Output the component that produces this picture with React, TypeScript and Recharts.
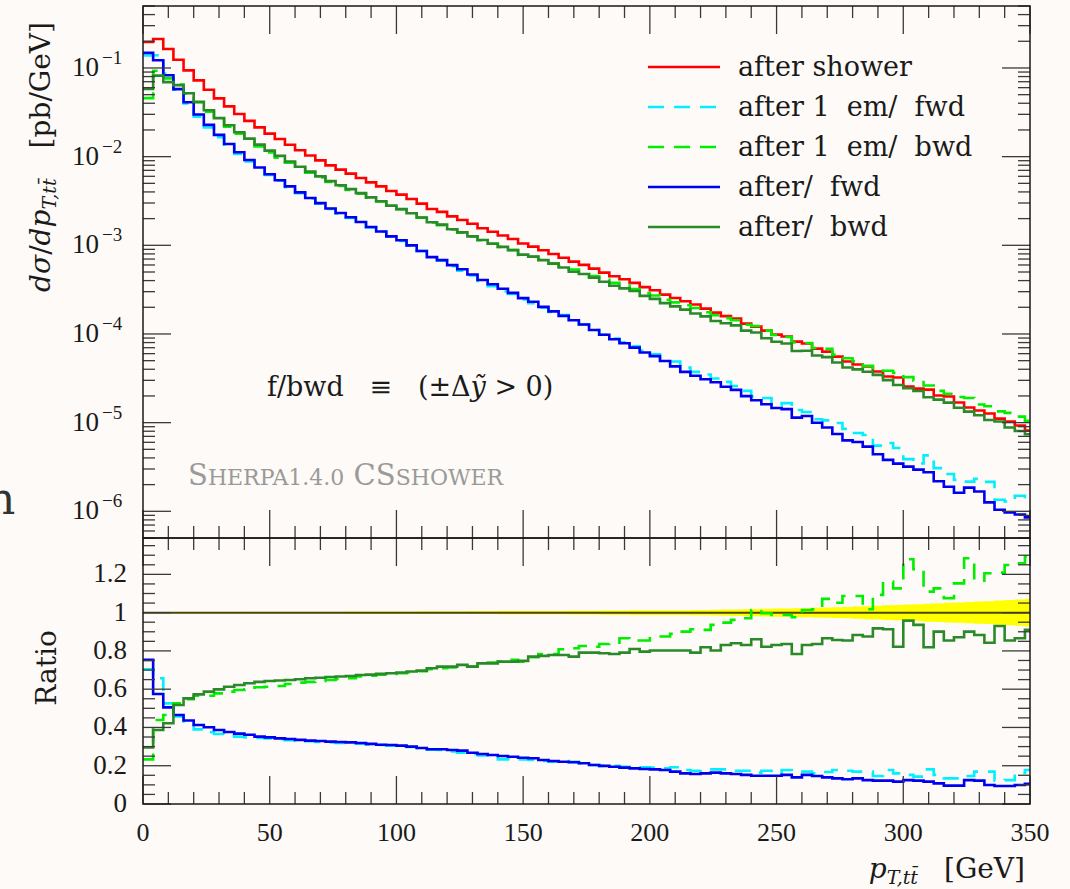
import React from 'react'
import { LineChart, ComposedChart, Line, Area, XAxis, YAxis, ReferenceLine } from 'recharts'

// histogram contents in pb/GeV, 4 GeV bins starting at pT = 0
const AFTER_SHOWER = [
  0.196, 0.212, 0.164, 0.124, 0.094, 0.0725, 0.0569, 0.0454, 0.0369, 0.0303,
  0.0253, 0.0214, 0.0182, 0.0158, 0.0136, 0.0118, 0.0103, 0.00908, 0.00798, 0.00713,
  0.00643, 0.00575, 0.00513, 0.00462, 0.0041, 0.00373, 0.00333, 0.00295, 0.00257, 0.00238,
  0.00212, 0.00193, 0.00175, 0.00156, 0.00142, 0.00129, 0.00118, 0.00105, 0.000967, 0.000878,
  0.000799, 0.000723, 0.000655, 0.000601, 0.000546, 0.000492, 0.000447, 0.000414, 0.000377, 0.000338,
  0.000311, 0.000278, 0.000255, 0.000234, 0.000215, 0.000193, 0.000174, 0.000159, 0.000149, 0.000131,
  0.000121, 0.000109, 9.84e-5, 9.35e-5, 8.2e-5, 7.8e-5, 6.84e-5, 6.33e-5, 5.56e-5, 4.89e-5,
  4.52e-5, 4.29e-5, 3.77e-5, 3.31e-5, 3.23e-5, 2.55e-5, 2.42e-5, 2.36e-5, 2.02e-5, 1.97e-5,
  1.69e-5, 1.48e-5, 1.37e-5, 1.27e-5, 1.11e-5, 1.03e-5, 9.28e-6, 8.14e-6,
]
const EM_FWD = [
  0.138, 0.139, 0.0863, 0.0567, 0.0397, 0.0283, 0.0213, 0.0166, 0.0132, 0.0107,
  0.0088, 0.00738, 0.00622, 0.00534, 0.00453, 0.00388, 0.00338, 0.00294, 0.00257, 0.00227,
  0.00204, 0.00181, 0.00159, 0.00142, 0.00125, 0.00112, 0.000992, 0.000864, 0.00073, 0.000671,
  0.000581, 0.000517, 0.000457, 0.000396, 0.000346, 0.000301, 0.000282, 0.000245, 0.000222, 0.000198,
  0.000177, 0.000163, 0.000144, 0.000128, 0.000111, 9.79e-5, 8.9e-5, 8.07e-5, 7.24e-5, 6.49e-5,
  5.91e-5, 5.17e-5, 4.9e-5, 4.17e-5, 3.74e-5, 3.49e-5, 3.15e-5, 2.88e-5, 2.59e-5, 2.28e-5,
  1.98e-5, 1.9e-5, 1.57e-5, 1.66e-5, 1.39e-5, 1.32e-5, 1.09e-5, 1.06e-5, 9.9e-6, 8.51e-6,
  7.64e-6, 7.25e-6, 5.5e-6, 5.89e-6, 5.17e-6, 3.88e-6, 3.46e-6, 4.27e-6, 3.07e-6, 2.64e-6,
  2.26e-6, 2.16e-6, 2.32e-6, 2.15e-6, 1.35e-6, 1.29e-6, 1.5e-6, 1.45e-6,
]
const EM_BWD = [
  0.0457, 0.0931, 0.0763, 0.0652, 0.0514, 0.041, 0.0322, 0.0262, 0.0217, 0.0181,
  0.01515, 0.01305, 0.01116, 0.00975, 0.00853, 0.00748, 0.00657, 0.00584, 0.00517, 0.00466,
  0.00422, 0.00383, 0.00344, 0.00312, 0.00279, 0.00255, 0.00229, 0.00205, 0.00181, 0.00169,
  0.00151, 0.00139, 0.00126, 0.00114, 0.00105, 0.00096, 0.000889, 0.000781, 0.000742, 0.000688,
  0.000626, 0.000585, 0.000533, 0.000496, 0.000449, 0.000411, 0.000377, 0.000359, 0.000322, 0.000289,
  0.000272, 0.000243, 0.000227, 0.000211, 0.000196, 0.000176, 0.000163, 0.000151, 0.000143, 0.000127,
  0.000123, 0.000109, 9.72e-5, 9.24e-5, 8.0e-5, 7.91e-5, 6.96e-5, 6.79e-5, 5.85e-5, 5.32e-5,
  4.91e-5, 4.37e-5, 4.12e-5, 3.85e-5, 3.64e-5, 3.26e-5, 2.97e-5, 2.62e-5, 2.28e-5, 2.12e-5,
  1.95e-5, 1.9e-5, 1.6e-5, 1.53e-5, 1.34e-5, 1.29e-5, 1.17e-5, 1.05e-5,
]
const FWD = [
  0.148, 0.122, 0.0828, 0.0577, 0.041, 0.0299, 0.0228, 0.0176, 0.0139, 0.0112,
  0.00916, 0.00753, 0.00633, 0.00542, 0.00462, 0.00395, 0.00341, 0.00299, 0.0026, 0.00231,
  0.00207, 0.00183, 0.00161, 0.00143, 0.00126, 0.00114, 0.000999, 0.000864, 0.000735, 0.000681,
  0.000598, 0.000538, 0.000469, 0.000407, 0.000364, 0.000324, 0.000291, 0.000254, 0.000231, 0.000202,
  0.00018, 0.00016, 0.000143, 0.000128, 0.000111, 9.79e-5, 8.72e-5, 7.87e-5, 7.01e-5, 6.19e-5,
  5.63e-5, 4.95e-5, 4.31e-5, 3.74e-5, 3.38e-5, 3.09e-5, 2.85e-5, 2.54e-5, 2.34e-5, 1.99e-5,
  1.79e-5, 1.61e-5, 1.46e-5, 1.42e-5, 1.14e-5, 1.19e-5, 9.99e-6, 8.8e-6, 7.45e-6, 6.31e-6,
  6.06e-6, 5.36e-6, 4.4e-6, 3.8e-6, 3.45e-6, 3.19e-6, 2.95e-6, 2.76e-6, 2.18e-6, 1.89e-6,
  1.62e-6, 1.85e-6, 1.67e-6, 1.26e-6, 1.04e-6, 9.68e-7, 9.19e-7, 8.55e-7,
]
const BWD = [
  0.058, 0.082, 0.0692, 0.0641, 0.0519, 0.0415, 0.0334, 0.0272, 0.0226, 0.01885,
  0.01596, 0.01365, 0.0117, 0.01019, 0.00881, 0.00769, 0.00677, 0.00599, 0.0053, 0.00475,
  0.0043, 0.00388, 0.00347, 0.00314, 0.0028, 0.00256, 0.0023, 0.00206, 0.00182, 0.00171,
  0.00152, 0.0014, 0.00126, 0.00115, 0.00104, 0.00096, 0.000878, 0.000785, 0.000745, 0.00068,
  0.000622, 0.000563, 0.000504, 0.000475, 0.000432, 0.000388, 0.00035, 0.000327, 0.000305, 0.000269,
  0.000249, 0.000223, 0.000205, 0.000188, 0.00017, 0.000158, 0.00014, 0.000132, 0.000125, 0.000109,
  0.000104, 8.96e-5, 8.18e-5, 7.82e-5, 6.43e-5, 6.48e-5, 5.72e-5, 5.48e-5, 4.76e-5, 4.18e-5,
  3.99e-5, 3.75e-5, 3.46e-5, 3.02e-5, 2.66e-5, 2.44e-5, 2.27e-5, 1.93e-5, 1.82e-5, 1.68e-5,
  1.47e-5, 1.33e-5, 1.21e-5, 1.07e-5, 1.03e-5, 8.8e-6, 8.04e-6, 7.41e-6,
]

// ratio to "after shower"
const RATIO_EM_FWD = [
  0.704, 0.657, 0.526, 0.457, 0.422, 0.39, 0.375, 0.366, 0.357, 0.352,
  0.348, 0.345, 0.342, 0.338, 0.333, 0.329, 0.328, 0.324, 0.322, 0.319,
  0.317, 0.315, 0.31, 0.308, 0.305, 0.301, 0.298, 0.293, 0.284, 0.282,
  0.274, 0.268, 0.261, 0.254, 0.244, 0.233, 0.239, 0.233, 0.23, 0.225,
  0.221, 0.225, 0.22, 0.213, 0.204, 0.199, 0.199, 0.195, 0.192, 0.192,
  0.19, 0.186, 0.192, 0.178, 0.174, 0.181, 0.181, 0.181, 0.174, 0.174,
  0.164, 0.174, 0.16, 0.178, 0.169, 0.169, 0.16, 0.167, 0.178, 0.174,
  0.169, 0.169, 0.146, 0.178, 0.16, 0.152, 0.143, 0.181, 0.152, 0.134,
  0.134, 0.146, 0.169, 0.169, 0.122, 0.125, 0.162, 0.178,
]
const RATIO_EM_BWD = [
  0.233, 0.439, 0.465, 0.526, 0.547, 0.566, 0.566, 0.578, 0.587, 0.596,
  0.599, 0.61, 0.613, 0.617, 0.627, 0.634, 0.638, 0.643, 0.648, 0.653,
  0.657, 0.666, 0.671, 0.676, 0.68, 0.683, 0.688, 0.694, 0.704, 0.709,
  0.714, 0.721, 0.718, 0.732, 0.739, 0.744, 0.753, 0.744, 0.767, 0.784,
  0.784, 0.809, 0.814, 0.826, 0.822, 0.836, 0.843, 0.866, 0.854, 0.854,
  0.875, 0.875, 0.889, 0.901, 0.913, 0.91, 0.936, 0.948, 0.962, 0.971,
  1.014, 0.997, 0.988, 0.988, 0.976, 1.014, 1.018, 1.072, 1.052, 1.087,
  1.087, 1.018, 1.093, 1.162, 1.127, 1.279, 1.227, 1.11, 1.127, 1.075,
  1.153, 1.284, 1.167, 1.206, 1.209, 1.249, 1.258, 1.293,
]
const RATIO_FWD = [
  0.753, 0.575, 0.505, 0.465, 0.436, 0.413, 0.401, 0.387, 0.376, 0.368,
  0.362, 0.352, 0.348, 0.343, 0.34, 0.335, 0.331, 0.329, 0.326, 0.324,
  0.322, 0.319, 0.314, 0.31, 0.308, 0.305, 0.3, 0.293, 0.286, 0.286,
  0.282, 0.279, 0.268, 0.261, 0.256, 0.251, 0.247, 0.242, 0.239, 0.23,
  0.225, 0.221, 0.218, 0.213, 0.204, 0.199, 0.195, 0.19, 0.186, 0.183,
  0.181, 0.178, 0.169, 0.16, 0.157, 0.16, 0.164, 0.16, 0.157, 0.152,
  0.148, 0.148, 0.148, 0.152, 0.139, 0.152, 0.146, 0.139, 0.134, 0.129,
  0.134, 0.125, 0.122, 0.122, 0.117, 0.125, 0.122, 0.117, 0.108, 0.096,
  0.096, 0.125, 0.122, 0.099, 0.094, 0.094, 0.099, 0.105,
]
const RATIO_BWD = [
  0.296, 0.387, 0.422, 0.517, 0.552, 0.573, 0.587, 0.599, 0.613, 0.622,
  0.631, 0.638, 0.643, 0.645, 0.648, 0.652, 0.657, 0.66, 0.664, 0.666,
  0.669, 0.674, 0.676, 0.68, 0.683, 0.687, 0.692, 0.697, 0.709, 0.718,
  0.718, 0.727, 0.718, 0.735, 0.735, 0.744, 0.744, 0.748, 0.77, 0.774,
  0.779, 0.779, 0.77, 0.791, 0.791, 0.788, 0.784, 0.791, 0.81, 0.796,
  0.802, 0.802, 0.802, 0.802, 0.791, 0.819, 0.802, 0.831, 0.84, 0.831,
  0.861, 0.822, 0.831, 0.836, 0.784, 0.831, 0.836, 0.866, 0.857, 0.854,
  0.883, 0.875, 0.918, 0.913, 0.822, 0.958, 0.936, 0.819, 0.901, 0.854,
  0.871, 0.901, 0.883, 0.843, 0.93, 0.854, 0.866, 0.91,
]
// half width of the yellow uncertainty band around 1
const RATIO_ERR = [
  0.002, 0.002, 0.002, 0.002, 0.002, 0.002, 0.002, 0.002, 0.002, 0.002,
  0.003, 0.003, 0.003, 0.003, 0.003, 0.003, 0.003, 0.003, 0.003, 0.003,
  0.004, 0.004, 0.004, 0.005, 0.005, 0.005, 0.005, 0.006, 0.006, 0.006,
  0.006, 0.006, 0.007, 0.007, 0.007, 0.008, 0.008, 0.008, 0.008, 0.009,
  0.009, 0.009, 0.01, 0.01, 0.01, 0.011, 0.011, 0.011, 0.012, 0.012,
  0.012, 0.012, 0.013, 0.013, 0.014, 0.014, 0.015, 0.016, 0.017, 0.018,
  0.019, 0.02, 0.021, 0.022, 0.023, 0.024, 0.025, 0.027, 0.028, 0.03,
  0.032, 0.034, 0.036, 0.038, 0.04, 0.042, 0.044, 0.047, 0.049, 0.051,
  0.053, 0.055, 0.058, 0.06, 0.063, 0.066, 0.069, 0.072,
]

const BIN_WIDTH = 4

const X_TICKS = [0, 10, 20, 30, 40, 50, 60, 70, 80, 90, 100, 110, 120, 130, 140, 150, 160, 170, 180,
  190, 200, 210, 220, 230, 240, 250, 260, 270, 280, 290, 300, 310, 320, 330, 340, 350]
const X_LABELS = [0, 50, 100, 150, 200, 250, 300, 350]
const LOG_DECADES = [1e-7, 1e-6, 1e-5, 1e-4, 1e-3, 1e-2, 1e-1]
const LOG_MANTISSAS = [1, 2, 3, 4, 5, 6, 7, 8, 9]
const RATIO_TICKS = [0, 0.05, 0.1, 0.15, 0.2, 0.25, 0.3, 0.35, 0.4, 0.45, 0.5, 0.55, 0.6, 0.65, 0.7,
  0.75, 0.8, 0.85, 0.9, 0.95, 1, 1.05, 1.1, 1.15, 1.2, 1.25, 1.3, 1.35]
const RATIO_LABELS = [0, 0.2, 0.4, 0.6, 0.8, 1, 1.2]

const SERIES = [
  { key: 'shower', name: 'after shower', color: '#ff0000', dash: undefined, data: AFTER_SHOWER, ratio: null },
  { key: 'emFwd', name: 'after 1 em/ fwd', color: '#00f0ff', dash: '16 10', data: EM_FWD, ratio: RATIO_EM_FWD },
  { key: 'emBwd', name: 'after 1 em/ bwd', color: '#00ee00', dash: '16 10', data: EM_BWD, ratio: RATIO_EM_BWD },
  { key: 'fwd', name: 'after/ fwd', color: '#0000f0', dash: undefined, data: FWD, ratio: RATIO_FWD },
  { key: 'bwd', name: 'after/ bwd', color: '#2a8a2a', dash: undefined, data: BWD, ratio: RATIO_BWD },
]

// layout
const W = 1070
const H = 889
const PL = 143
const PR = 1030
const UP_TOP = 6
const SPLIT = 538
const LO_BOT = 804
const MAJOR = 28
const MINOR = 12
const INK = '#1a1a1a'
const TICK_INK = '#3a3a3a'
const BG = '#fdfaf7'
const NUM_FONT = '"Liberation Serif", serif'
const TEXT_FONT = '"DejaVu Serif", serif'

const LOG_TICKS = LOG_DECADES.flatMap(d => LOG_MANTISSAS.map(m => m * d)).filter(v => v >= 5e-7 && v <= 0.5)

// one row per bin edge; the extra last row closes the final bin
const nBins = AFTER_SHOWER.length
const rows = Array.from({ length: nBins + 1 }, (_, k) => {
  const i = Math.min(k, nBins - 1)
  const row: any = { x: k * BIN_WIDTH, band: [1 - RATIO_ERR[i], 1 + RATIO_ERR[i]] }
  SERIES.forEach(s => {
    row[s.key] = s.data[i]
    if (s.ratio) row[s.key + 'R'] = s.ratio[i]
  })
  return row
})

const tl = { stroke: TICK_INK, strokeWidth: 1.3 }

function UpperYTick(props: any) {
  const { y, payload } = props
  const v = payload.value
  const major = LOG_DECADES.includes(v)
  const len = major ? MAJOR : MINOR
  const exp = Math.round(Math.log10(v))
  return (
    <g>
      <line x1={PL} x2={PL + len} y1={y} y2={y} {...tl} />
      <line x1={PR} x2={PR - len} y1={y} y2={y} {...tl} />
      {major && (
        <>
          <text x={99} y={y + 8} textAnchor="end" fontFamily={NUM_FONT} fontSize={27} fill={INK}>10</text>
          <text x={102} y={y - 4} fontFamily={NUM_FONT} fontSize={19} fill={INK}>{'\u2212' + Math.abs(exp)}</text>
        </>
      )}
    </g>
  )
}

function UpperXTick(props: any) {
  const { x, payload } = props
  const len = X_LABELS.includes(payload.value) ? MAJOR : MINOR
  return (
    <g>
      <line x1={x} x2={x} y1={UP_TOP} y2={UP_TOP + len} {...tl} />
      <line x1={x} x2={x} y1={SPLIT} y2={SPLIT - len} {...tl} />
    </g>
  )
}

function RatioYTick(props: any) {
  const { y, payload } = props
  const v = payload.value
  const major = RATIO_LABELS.includes(v)
  const len = major ? MAJOR : MINOR
  return (
    <g>
      <line x1={PL} x2={PL + len} y1={y} y2={y} {...tl} />
      <line x1={PR} x2={PR - len} y1={y} y2={y} {...tl} />
      {major && (
        <text x={127} y={y + 8} textAnchor="end" fontFamily={NUM_FONT} fontSize={27} fill={INK}>
          {v === 0 || v === 1 ? String(v) : v.toFixed(1)}
        </text>
      )}
    </g>
  )
}

function RatioXTick(props: any) {
  const { x, payload } = props
  const major = X_LABELS.includes(payload.value)
  const len = major ? MAJOR : MINOR
  return (
    <g>
      <line x1={x} x2={x} y1={SPLIT} y2={SPLIT + len} {...tl} />
      <line x1={x} x2={x} y1={LO_BOT} y2={LO_BOT - len} {...tl} />
      {major && (
        <text x={x} y={841} textAnchor="middle" fontFamily={NUM_FONT} fontSize={26} fill={INK}>
          {payload.value}
        </text>
      )}
    </g>
  )
}

function Overlay() {
  return (
    <svg width={W} height={H} style={{ position: 'absolute', left: 0, top: 0, pointerEvents: 'none' }}>
      <rect x={PL} y={UP_TOP} width={PR - PL} height={SPLIT - UP_TOP} fill="none" stroke={INK} strokeWidth={1.5} />
      <rect x={PL} y={SPLIT} width={PR - PL} height={LO_BOT - SPLIT} fill="none" stroke={INK} strokeWidth={1.5} />

      {SERIES.map((s, i) => (
        <g key={s.key}>
          <line x1={648} x2={720} y1={67 + 40 * i} y2={67 + 40 * i} stroke={s.color} strokeWidth={2.6} strokeDasharray={s.dash} />
          <text x={738} y={76 + 40 * i} fontFamily={TEXT_FONT} fontSize={27} fill={INK} style={{ whiteSpace: 'pre' }}>
            {s.name.replace(/ /g, '  ').replace('after  ', 'after ')}
          </text>
        </g>
      ))}

      <text x={267} y={396} fontFamily={TEXT_FONT} fontSize={27} fill={INK} style={{ whiteSpace: 'pre' }}>
        {'f/bwd   \u2261   (\u00b1\u0394'}<tspan fontStyle="italic">{'\u1ef9'}</tspan>{' > 0)'}
      </text>

      <text x={188} y={485} fontFamily={TEXT_FONT} fontSize={29} fill="#9a9a9a">
        S<tspan fontSize={22}>HERPA1.4.0</tspan> CS<tspan fontSize={22}>SHOWER</tspan>
      </text>

      <text transform="translate(50,157) rotate(-90)" textAnchor="middle" fontFamily={TEXT_FONT} fontSize={28} fill={INK}>
        <tspan fontStyle="italic">d{'\u03c3'}</tspan>
        <tspan>/</tspan>
        <tspan fontStyle="italic">dp</tspan>
        <tspan fontStyle="italic" fontSize={19} dy={6}>{'T,tt\u0304'}</tspan>
        <tspan dx={30} dy={-6}>[pb/GeV]</tspan>
      </text>

      <text transform="translate(56,668) rotate(-90)" textAnchor="middle" fontFamily={TEXT_FONT} fontSize={28} fill={INK}>
        Ratio
      </text>

      <text x={1025} y={878} textAnchor="end" fontFamily={TEXT_FONT} fontSize={28} fill={INK}>
        <tspan fontStyle="italic">p</tspan>
        <tspan fontStyle="italic" fontSize={19} dy={6}>{'T,tt\u0304'}</tspan>
        <tspan dx={26} dy={-6}>[GeV]</tspan>
      </text>

      <text x={-13} y={514} fontFamily={TEXT_FONT} fontSize={44} fill="#333">n</text>
    </svg>
  )
}

export default function App() {
  return (
    <div style={{ position: 'absolute', left: 0, top: 0, width: W, height: H, background: BG, overflow: 'hidden' }}>
      <div style={{ position: 'absolute', left: 0, top: 0 }}>
        <LineChart width={W} height={SPLIT + 2} data={rows} margin={{ top: UP_TOP, right: W - PR, bottom: 1, left: PL - 1 }}>
          <XAxis
            dataKey="x"
            type="number"
            domain={[0, 350]}
            ticks={X_TICKS}
            interval={0}
            allowDataOverflow
            height={1}
            axisLine={false}
            tickLine={false}
            tickSize={0}
            tickMargin={0}
            tick={<UpperXTick />}
          />
          <YAxis
            type="number"
            scale="log"
            domain={[5e-7, 0.5]}
            ticks={LOG_TICKS}
            interval={0}
            allowDataOverflow
            width={1}
            axisLine={false}
            tickLine={false}
            tickSize={0}
            tickMargin={0}
            tick={<UpperYTick />}
          />
          {SERIES.map(s => (
            <Line
              key={s.key}
              dataKey={s.key}
              type="stepAfter"
              stroke={s.color}
              strokeWidth={2.6}
              strokeDasharray={s.dash}
              dot={false}
              activeDot={false}
              isAnimationActive={false}
            />
          ))}
        </LineChart>
      </div>
      <div style={{ position: 'absolute', left: 0, top: 0 }}>
        <ComposedChart width={W} height={H} data={rows} margin={{ top: SPLIT, right: W - PR, bottom: H - LO_BOT - 1, left: PL - 1 }}>
          <XAxis
            dataKey="x"
            type="number"
            domain={[0, 350]}
            ticks={X_TICKS}
            interval={0}
            allowDataOverflow
            height={1}
            axisLine={false}
            tickLine={false}
            tickSize={0}
            tickMargin={0}
            tick={<RatioXTick />}
          />
          <YAxis
            type="number"
            domain={[0, 1.39]}
            ticks={RATIO_TICKS}
            interval={0}
            allowDataOverflow
            width={1}
            axisLine={false}
            tickLine={false}
            tickSize={0}
            tickMargin={0}
            tick={<RatioYTick />}
          />
          <Area dataKey="band" type="stepAfter" fill="#ffff00" fillOpacity={1} stroke="none" isAnimationActive={false} />
          <ReferenceLine y={1} stroke="#4a4700" strokeWidth={2} />
          {SERIES.filter(s => s.ratio).map(s => (
            <Line
              key={s.key}
              dataKey={s.key + 'R'}
              type="stepAfter"
              stroke={s.color}
              strokeWidth={2.6}
              strokeDasharray={s.dash}
              dot={false}
              activeDot={false}
              isAnimationActive={false}
            />
          ))}
        </ComposedChart>
      </div>
      <Overlay />
    </div>
  )
}
